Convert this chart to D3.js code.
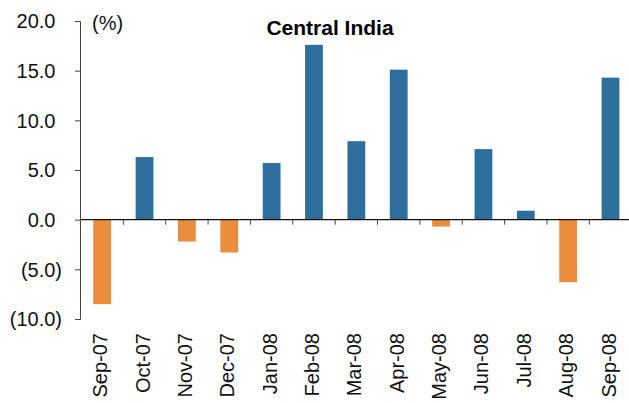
<!DOCTYPE html>
<html>
<head>
<meta charset="utf-8">
<script src="https://cdnjs.cloudflare.com/ajax/libs/d3/7.8.5/d3.min.js"></script>
<style>
  body { margin: 0; background: #fff; }
  svg { display: block; font-family: Arial, "Liberation Sans", sans-serif; }
</style>
</head>
<body>
<svg id="chart" width="629" height="403"></svg>
<script>
var months = ['Sep-07', 'Oct-07', 'Nov-07', 'Dec-07', 'Jan-08', 'Feb-08', 'Mar-08',
              'Apr-08', 'May-08', 'Jun-08', 'Jul-08', 'Aug-08', 'Sep-08'];
var growth = [-8.5, 6.3, -2.2, -3.3, 5.7, 17.6, 7.9, 15.1, -0.7, 7.1, 0.9, -6.3, 14.3];
var y_ticks = [20, 15, 10, 5, 0, -5, -10];

var svg = d3.select('#chart');

var x = d3.scaleBand()
    .domain(months)
    .range([81, 631.7])
    .paddingInner(0.58)
    .paddingOuter(0.29);

var y = d3.scaleLinear()
    .domain([-10, 20])
    .range([319, 21]);

var fmt = function(v) {
    var s = d3.format('.1f')(Math.abs(v));
    return v < 0 ? '(' + s + ')' : s;
};

// bars
svg.append('g')
    .selectAll('rect')
    .data(months)
    .enter()
    .append('rect')
    .attr('x', function(d) { return x(d); })
    .attr('width', x.bandwidth())
    .attr('y', function(d, i) { return y(Math.max(0, growth[i])); })
    .attr('height', function(d, i) { return Math.abs(y(growth[i]) - y(0)); })
    .style('fill', function(d, i) { return growth[i] < 0 ? '#EC8D3D' : '#2E6E9D'; });

// y axis
var yAxis = svg.append('g')
    .attr('transform', 'translate(80,0)')
    .call(d3.axisLeft(y).tickValues(y_ticks).tickSize(5).tickFormat(''));
yAxis.select('.domain').attr('stroke', '#444');
yAxis.selectAll('.tick line').attr('stroke', '#444');

svg.append('g')
    .selectAll('text')
    .data(y_ticks)
    .enter()
    .append('text')
    .attr('x', function(d) { return d < 0 ? 62 : 55.5; })
    .attr('y', function(d) { return y(d); })
    .attr('dy', '0.36em')
    .attr('text-anchor', 'end')
    .style('font-size', '20px')
    .style('fill', '#111')
    .text(fmt);

// zero line with ticks between months
var step = x.step();
var xt = d3.range(1, months.length).map(function(i) { return x(months[0]) - x.paddingOuter() * step + i * step; });
svg.append('line')
    .attr('x1', 80).attr('x2', 629)
    .attr('y1', y(0)).attr('y2', y(0))
    .attr('stroke', '#111').attr('stroke-width', 1.2);
svg.append('g')
    .selectAll('line')
    .data(xt)
    .enter()
    .append('line')
    .attr('x1', function(d) { return d; })
    .attr('x2', function(d) { return d; })
    .attr('y1', y(0))
    .attr('y2', y(0) + 5)
    .attr('stroke', '#444');

// month labels
svg.append('g')
    .selectAll('text')
    .data(months)
    .enter()
    .append('text')
    .attr('transform', function(d) {
        return 'translate(' + (x(d) + x.bandwidth() / 2 + 5) + ',333) rotate(-90)';
    })
    .attr('text-anchor', 'end')
    .style('font-size', '20px')
    .style('fill', '#111')
    .text(function(d) { return d; });

svg.append('text')
    .attr('x', 92).attr('y', 30)
    .style('font-size', '20px')
    .style('fill', '#111')
    .text('(%)');

svg.append('text')
    .attr('x', 330).attr('y', 35)
    .attr('text-anchor', 'middle')
    .style('font-size', '21px')
    .style('font-weight', 'bold')
    .style('fill', '#000')
    .text('Central India');
</script>
</body>
</html>
